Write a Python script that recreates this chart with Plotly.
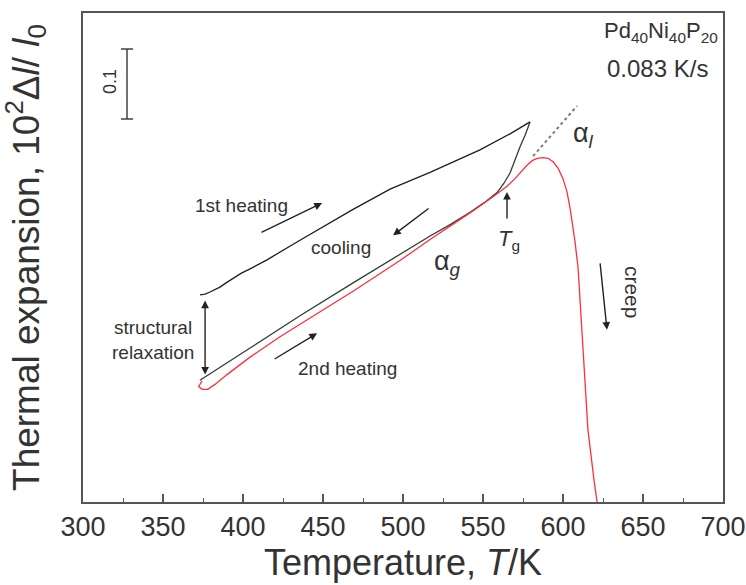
import plotly.graph_objects as go

# ---- data (temperature in K, expansion in 10^2 dl/l0, arbitrary offset) ----
heat1_T = [373.1, 376.3, 379.4, 382.5, 385.6, 389.4, 393.8, 399.0, 404.4, 415.0, 435.6, 468.8, 491.9, 516.9, 548.1, 566.9, 579.4]
heat1_y = [0.296, 0.297, 0.300, 0.303, 0.307, 0.313, 0.320, 0.327, 0.333, 0.346, 0.374, 0.418, 0.447, 0.471, 0.503, 0.526, 0.543]

cool_T = [579.4, 577.8, 576.3, 573.1, 570.0, 566.9, 563.0, 558.8, 551.0, 541.9, 530.0, 516.9, 468.8, 435.6, 404.4, 379.4, 373.1]
cool_y = [0.543, 0.533, 0.524, 0.507, 0.488, 0.470, 0.455, 0.442, 0.428, 0.414, 0.397, 0.380, 0.313, 0.266, 0.220, 0.183, 0.174]

heat2_T = [374.4, 372.3, 374.5, 378.0, 382.5, 390.0, 404.4, 423.1, 468.8, 498.1, 516.9, 541.9, 558.0, 565.0, 570.0, 573.1,
           577.5, 581.0, 584.0, 587.5, 590.6, 593.8, 596.9, 600.0, 602.5, 604.4, 606.0, 607.5, 609.4,
           611.9, 615.6, 619.4, 621.3]
heat2_y = [0.173, 0.165, 0.161, 0.161, 0.168, 0.182, 0.207, 0.236, 0.301, 0.345, 0.375, 0.413, 0.439, 0.451, 0.462, 0.470,
           0.481, 0.488, 0.491, 0.492, 0.491, 0.486, 0.477, 0.462, 0.443, 0.420, 0.397, 0.372, 0.335,
           0.246, 0.103, 0.031, 0.0]

liq_T = [581.3, 608.8]
liq_y = [0.494, 0.566]

scale_T = [327.5]
scale_mid = [0.597]
scale_half = [0.05]

x_ticks = [300, 350, 400, 450, 500, 550, 600, 650, 700]

TXT = "#333333"
SANS = "Liberation Sans, Arial, sans-serif"

fig = go.Figure()
fig.add_trace(go.Scatter(x=heat1_T, y=heat1_y, mode="lines",
                         line=dict(color="#1e1e1e", width=1.3),
                         showlegend=False, hoverinfo="skip"))
fig.add_trace(go.Scatter(x=cool_T, y=cool_y, mode="lines",
                         line=dict(color="#2e3d35", width=1.3),
                         showlegend=False, hoverinfo="skip"))
fig.add_trace(go.Scatter(x=heat2_T, y=heat2_y, mode="lines",
                         line=dict(color="#ff2f3a", width=1.3),
                         showlegend=False, hoverinfo="skip"))
fig.add_trace(go.Scatter(x=liq_T, y=liq_y, mode="lines",
                         line=dict(color="#7a7a7a", width=2, dash="dot"),
                         showlegend=False, hoverinfo="skip"))
fig.add_trace(go.Scatter(x=scale_T, y=scale_mid, mode="markers",
                         marker=dict(size=1, color="rgba(0,0,0,0)"),
                         error_y=dict(type="data", array=scale_half, symmetric=True,
                                      color="#444444", thickness=1.5, width=6),
                         showlegend=False, hoverinfo="skip"))

ann = []

def arrow(x0, y0, x1, y1, both=False):
    ann.append(dict(x=x1, y=y1, ax=x0, ay=y0, xref="x", yref="y", axref="x", ayref="y",
                    text="", showarrow=True, arrowhead=2, arrowsize=1.1, arrowwidth=1.4,
                    arrowcolor="#222222", arrowside="end+start" if both else "end",
                    startarrowhead=2, startarrowsize=1.1))

def label(x, y, text, size=19, angle=0, xanchor="center"):
    ann.append(dict(x=x, y=y, xref="x", yref="y", text=text, showarrow=False,
                    font=dict(size=size, color=TXT, family=SANS), textangle=angle,
                    xanchor=xanchor, yanchor="middle"))

arrow(410.6, 0.384, 449.4, 0.427)        # 1st heating
arrow(516.9, 0.421, 493.8, 0.381)        # cooling
arrow(418.8, 0.203, 446.3, 0.241)        # 2nd heating
arrow(565.0, 0.403, 565.0, 0.443)        # Tg
arrow(623.1, 0.343, 627.5, 0.246)        # creep
arrow(376.3, 0.290, 376.3, 0.182, both=True)  # structural relaxation

label(398.8, 0.423, "1st heating")
label(461.3, 0.363, "cooling")
label(465.6, 0.191, "2nd heating")
label(343.8, 0.249, "structural")
label(343.8, 0.214, "relaxation")
label(643.0, 0.299, "creep", size=21, angle=90)
label(316.9, 0.600, "0.1", size=18, angle=-90)
label(613.0, 0.524, "α<sub><i>l</i></sub>", size=27)
label(528.0, 0.341, "α<sub><i>g</i></sub>", size=27)
label(566.0, 0.374, "<i>T</i><sub>g</sub>", size=22)
label(698.0, 0.671, "Pd<sub>40</sub>Ni<sub>40</sub>P<sub>20</sub>", size=22, xanchor="right")
label(691.9, 0.620, "0.083 K/s", size=24, xanchor="right")

fig.update_layout(
    width=746, height=585,
    margin=dict(l=83, r=23, t=13, b=83),
    paper_bgcolor="white", plot_bgcolor="white",
    annotations=ann,
    xaxis=dict(range=[300, 700], tickvals=x_ticks, ticktext=[str(v) for v in x_ticks],
               ticks="inside", ticklen=8, tickwidth=1.5, tickcolor="#555555",
               minor=dict(dtick=25, tick0=300, ticks="inside", ticklen=4, tickwidth=1.2,
                          tickcolor="#555555", showgrid=False),
               showline=True, linewidth=2, linecolor="#555555", mirror=True,
               showgrid=False, zeroline=False, ticklabeloverflow="allow", automargin=False,
               tickfont=dict(size=27, color=TXT, family=SANS),
               title=dict(text="Temperature, <i>T</i>/K", standoff=6,
                          font=dict(size=36, color=TXT, family=SANS))),
    yaxis=dict(range=[0, 0.6986], showticklabels=False, ticks="", automargin=False,
               showline=True, linewidth=2, linecolor="#555555", mirror=True,
               showgrid=False, zeroline=False,
               title=dict(text="Thermal expansion, 10<sup>2</sup>Δ<i>l</i>/ <i>l</i><sub>0</sub>",
                          standoff=34, font=dict(size=37, color=TXT, family=SANS))),
)

fig.write_html("out.html")
